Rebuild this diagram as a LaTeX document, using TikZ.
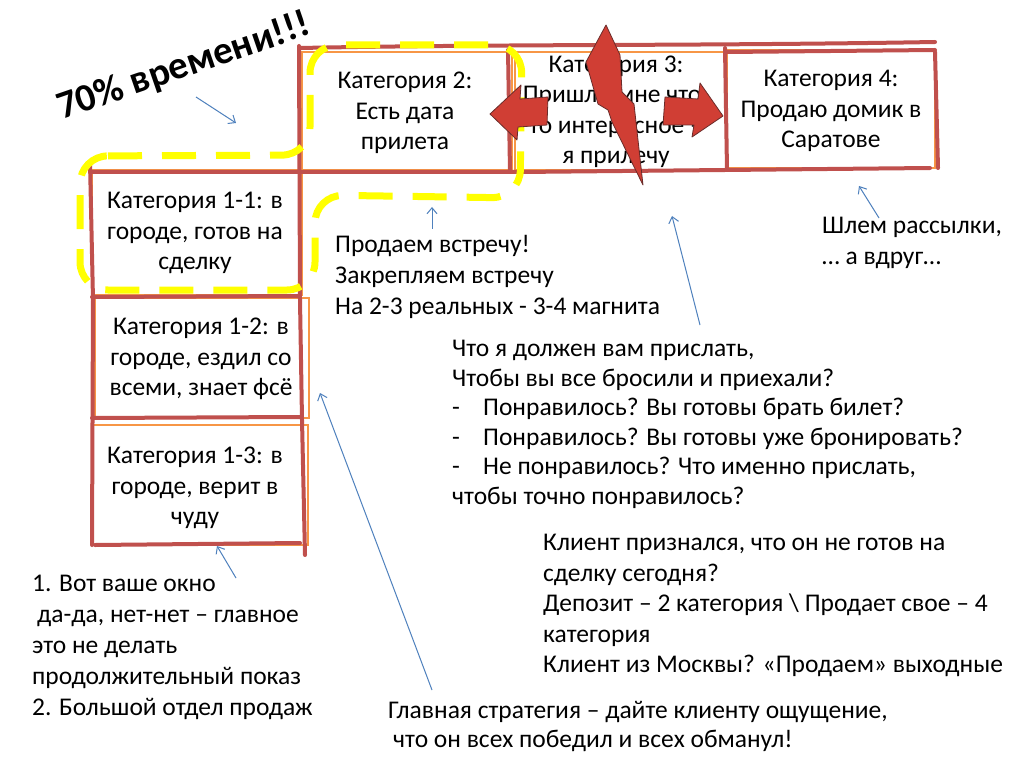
\documentclass[tikz,border=0pt]{standalone}
\usepackage{fontspec}
\setmainfont{Carlito}
\usetikzlibrary{arrows.meta}
\definecolor{sketchred}{RGB}{192,80,77}
\definecolor{sketchorange}{RGB}{247,150,70}
\definecolor{noteblue}{RGB}{79,129,189}
\definecolor{markyellow}{RGB}{255,255,0}
\definecolor{boltred}{RGB}{208,62,52}

\begin{document}
\begin{tikzpicture}[x=1pt, y=-1pt, >={Straight Barb[length=6pt,width=10pt]},
    sketch/.style={draw=sketchred, line width=4pt, line cap=round, line join=round},
    thinsketch/.style={draw=sketchorange, line width=1.5pt},
    marker/.style={draw=markyellow, line width=7pt, dash pattern=on 34pt off 20pt, rounded corners=28pt},
    boxtext/.style={align=center, inner sep=0pt, font=\fontsize{25.5}{30.5}\selectfont},
    notetext/.style={align=left, inner sep=0pt, anchor=north west, font=\fontsize{25.5}{31}\selectfont},
    pointer/.style={->, draw=noteblue, line width=1pt},
    blockarrow/.style={fill=boltred, draw=sketchred!55!black, line width=0.8pt, line join=round}]

    % рамка слайда
    \fill[white] (0,0) rectangle (1024,767);
    \useasboundingbox (0,0) rectangle (1024,767);

    % тонкие оранжевые рамки
    \draw[thinsketch] (302,52) rectangle (512,170);
    \draw[thinsketch] (515,52) rectangle (727,170);
    \draw[thinsketch] (727,50) rectangle (935,168);
    \draw[thinsketch] (92,170) rectangle (302,295);
    \draw[thinsketch] (95,298) rectangle (309,418);
    \draw[thinsketch] (92,425) rectangle (308,545);

    % красные линии от руки
    \draw[sketch] (300,48) .. controls (500,44) and (700,46) .. (935,42);
    \draw[sketch] (727,52) -- (935,50);
    \draw[sketch] (90,172) -- (520,172) -- (930,168);
    \draw[sketch] (299,46) -- (300,300) -- (302,420) -- (305,555);
    \draw[sketch] (90,162) -- (93,300) -- (92,545);
    \draw[sketch] (92,297) -- (300,296);
    \draw[sketch] (92,418) -- (300,417);
    \draw[sketch] (95,545) -- (300,543);
    \draw[sketch] (508,50) -- (510,172);
    \draw[sketch] (725,48) -- (727,170);
    \draw[sketch] (935,52) -- (938,168);

    % жёлтый пунктир (70% времени)
    \draw[marker] (80,156) -- (310,155) -- (310,45) -- (522,45) -- (520,198) -- (315,195) -- (315,290) -- (80,290) -- cycle;

    % заголовок
    \node[font=\fontsize{39}{43}\selectfont\bfseries, rotate=19] (title) at (184,67) {70\% времени!!!};

    % категории
    \node[boxtext] (cat2) at (405,113) {Категория 2:\\Есть дата\\прилета};
    \node[boxtext] (cat3) at (616,112) {Категория 3:\\Пришли мне что-\\то интересное –\\я прилечу};
    \node[boxtext] (cat4) at (831,111) {Категория 4:\\Продаю домик в\\Саратове};
    \node[boxtext] (cat11) at (195,233) {Категория 1-1: в\\городе, готов на\\сделку};
    \node[boxtext] (cat12) at (201,359) {Категория 1-2: в\\городе, ездил со\\всеми, знает фсё};
    \node[boxtext] (cat13) at (195,488) {Категория 1-3: в\\городе, верит в\\чуду};

    % пояснения
    \node[notetext] (meeting) at (335,235) {Продаем встречу!\\Закрепляем встречу\\На 2-3 реальных - 3-4 магнита};
    \node[notetext, font=\fontsize{25.5}{29.6}\selectfont] (send) at (452,340) {Что я должен вам прислать,\\Чтобы вы все бросили и приехали?\\
        \makebox[31pt][l]{-}Понравилось? Вы готовы брать билет?\\
        \makebox[31pt][l]{-}Понравилось? Вы готовы уже бронировать?\\
        \makebox[31pt][l]{-}Не понравилось? Что именно прислать,\\чтобы точно понравилось?};
    \node[notetext, font=\fontsize{25.5}{30.5}\selectfont] (client) at (543,534) {Клиент признался, что он не готов на\\сделку сегодня?\\
        Депозит – 2 категория \textbackslash{} Продает свое – 4\\категория\\Клиент из Москвы? «Продаем» выходные};
    \node[notetext] (mailing) at (822,217) {Шлем рассылки,\\… а вдруг…};
    \node[notetext] (window) at (32,575) {1. Вот ваше окно\\\hspace*{5pt}да-да, нет-нет – главное\\это не делать\\продолжительный показ\\2. Большой отдел продаж};
    \node[notetext, font=\fontsize{25.5}{29}\selectfont] (strategy) at (388,701) {Главная стратегия – дайте клиенту ощущение,\\\hspace*{5pt}что он всех победил и всех обманул!};

    % синие стрелки
    \coordinate (timeFrom) at (196,97);  \coordinate (timeTo) at (236,123);
    \coordinate (meetFrom) at (432,229); \coordinate (meetTo) at (432,207);
    \coordinate (sendFrom) at (700,325); \coordinate (sendTo) at (672,216);
    \coordinate (mailFrom) at (879,218); \coordinate (mailTo) at (859,186);
    \coordinate (stratFrom) at (432,690); \coordinate (stratTo) at (320,393);
    \coordinate (winFrom) at (236,578);  \coordinate (winTo) at (217,546);
    \draw[pointer] (timeFrom) -- (timeTo);
    \draw[pointer] (meetFrom) -- (meetTo);
    \draw[pointer] (sendFrom) -- (sendTo);
    \draw[pointer] (mailFrom) -- (mailTo);
    \draw[pointer] (stratFrom) -- (stratTo);
    \draw[pointer] (winFrom) -- (winTo);

    % красные стрелки и молния
    \filldraw[blockarrow] (490,114) -- (521,85) -- (520,99) -- (548,97) -- (547,125) -- (518,127) -- (517,140) -- cycle;
    \filldraw[blockarrow] (723,116) -- (692,137) -- (694,125) -- (663,125) -- (665,97) -- (698,99) -- (700,83) -- cycle;
    \filldraw[blockarrow] (606,25) -- (620,55) -- (622,92) -- (634,104) -- (643,185) -- (612,122) -- (608,110) -- (598,104) -- (586,62) -- cycle;

\end{tikzpicture}
\end{document}
